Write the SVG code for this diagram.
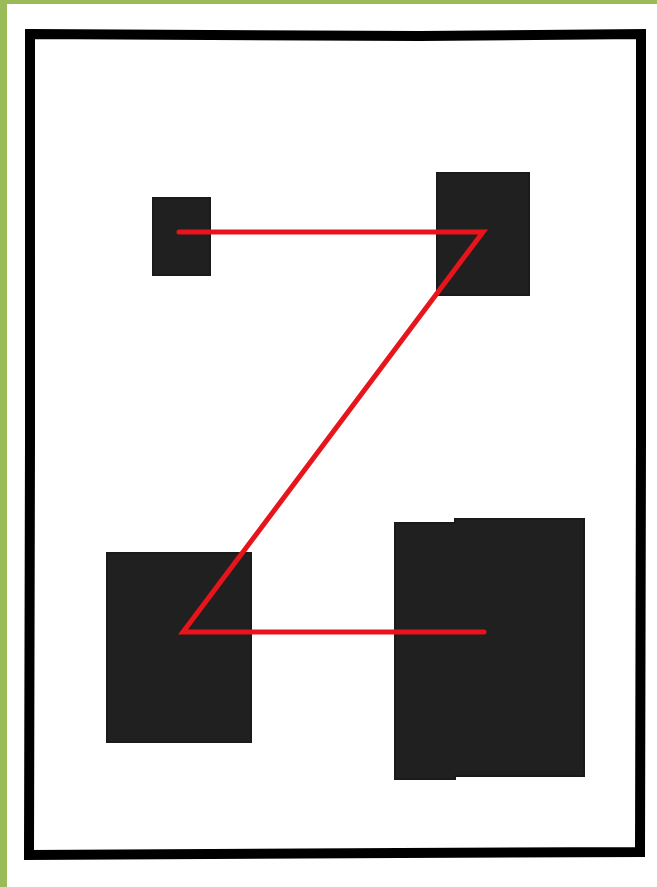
<svg xmlns="http://www.w3.org/2000/svg" width="657" height="887" viewBox="0 0 657 887">
  <style>
    .blk { fill: #202020; stroke: #1a1a1a; stroke-width: 2; }
    .frame { fill: none; stroke: #000; stroke-width: 10; stroke-linejoin: miter; }
    .conn { fill: none; stroke: #e8141c; stroke-width: 5; stroke-linejoin: miter; stroke-linecap: round; }
  </style>
  <rect x="0" y="0" width="657" height="887" fill="#ffffff"/>
  <rect x="0" y="0" width="7" height="887" fill="#9bbb59"/>
  <rect x="0" y="0" width="657" height="4" fill="#9bbb59"/>
  <g id="frame">
    <path class="frame" d="M30,34 L420,36 L641,34 L641,440 L640,852 L400,853 L29,855 L30,440 Z"/>
  </g>
  <g id="node-small">
    <rect class="blk" x="153" y="198" width="57" height="77"/>
  </g>
  <g id="node-top-right">
    <rect class="blk" x="437" y="173" width="92" height="122"/>
  </g>
  <g id="node-bottom-left">
    <rect class="blk" x="107" y="553" width="144" height="189"/>
  </g>
  <g id="node-bottom-right">
    <path class="blk" d="M395,523 L455,523 L455,519 L584,519 L584,776 L455,776 L455,779 L395,779 Z"/>
  </g>
  <g id="connectors">
    <polyline class="conn" points="179,232 483,232 183,632 484,632"/>
  </g>
</svg>
